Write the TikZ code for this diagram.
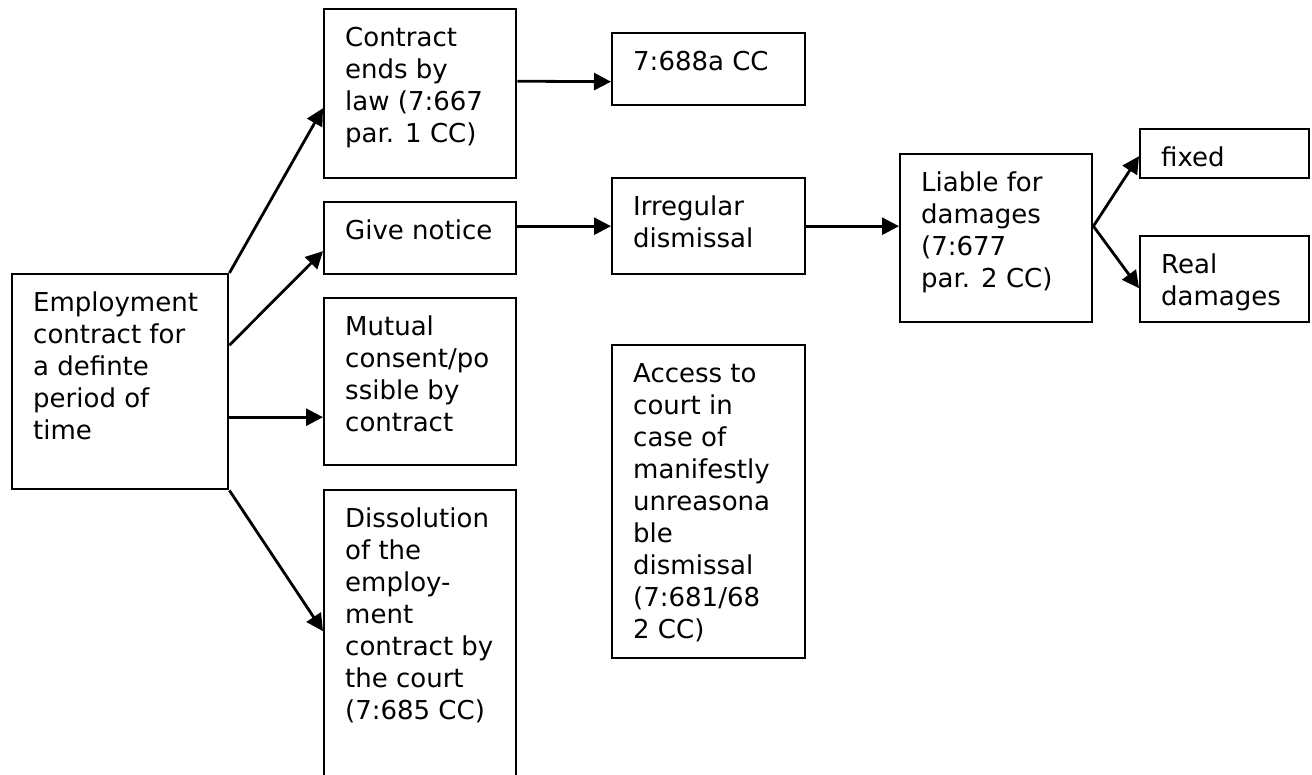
\documentclass[tikz,border=0pt]{standalone}
\usepackage{fontspec}
\setmainfont{DejaVu Sans}
\usepackage{tikz}
\usetikzlibrary{arrows.meta}

% text block inside a box: width, height, lines
\newcommand{\cellText}[3]{\parbox[c][#2][t]{#1}{\leftskip=21pt\parindent=0pt\rule{0pt}{37pt}#3}}

\begin{document}
\begin{tikzpicture}[
    x=1pt, y=-1pt,
    cellBox/.style={draw, line width=2.4pt, inner sep=0pt, anchor=north west},
    arrowLine/.style={->, >={Triangle[length=17pt, width=17pt]}, line width=2.8pt},
    every node/.style={
        font=\fontsize{26pt}{32pt}\selectfont,
        }
        ]
    \clip (0, 0) rectangle (1312, 775);

    \node[cellBox] (employment) at (11, 273) {\cellText{216pt}{215pt}{Employment\\contract for\\a definte\\period of\\time}};

    \node[cellBox] (law) at (323, 8) {\cellText{192pt}{169pt}{Contract\\ends by\\law (7:667\\par. 1 CC)}};
    \node[cellBox] (notice) at (323, 201) {\cellText{192pt}{72pt}{Give notice}};
    \node[cellBox] (mutual) at (323, 297) {\cellText{192pt}{167pt}{Mutual\\consent/po\\ssible by\\contract}};
    \node[cellBox] (dissolution) at (323, 489) {\cellText{192pt}{300pt}{Dissolution\\of the\\employ-\\ment\\contract by\\the court\\(7:685 CC)}};

    \node[cellBox] (article) at (611, 32) {\cellText{193pt}{72pt}{7:688a CC}};
    \node[cellBox] (irregular) at (611, 177) {\cellText{193pt}{96pt}{Irregular\\dismissal}};
    \node[cellBox] (access) at (611, 344) {\cellText{193pt}{313pt}{Access to\\court in\\case of\\manifestly\\unreasona\\ble\\dismissal\\(7:681/68\\2 CC)}};

    \node[cellBox] (liable) at (899, 153) {\cellText{192pt}{168pt}{Liable for\\damages\\(7:677\\par. 2 CC)}};

    \node[cellBox] (fixed) at (1139, 128) {\cellText{169pt}{49pt}{fixed}};
    \node[cellBox] (real) at (1139, 235) {\cellText{169pt}{86pt}{Real\\damages}};

    \draw[arrowLine] (employment.north east) -- ([yshift=-14.5pt]law.west);
    \draw[arrowLine] ([yshift=36.5pt]employment.east) -- ([yshift=-13pt]notice.west);
    \draw[arrowLine] ([yshift=-35.5pt]employment.east) -- ([yshift=-35.5pt]mutual.west);
    \draw[arrowLine] (employment.south east) -- ([yshift=9pt]dissolution.west);

    \draw[arrowLine] ([yshift=12.5pt]law.east) -- ([yshift=-12.5pt]article.west);
    \draw[arrowLine] ([yshift=12pt]notice.east) -- (irregular.west);
    \draw[arrowLine] (irregular.east) -- ([yshift=12pt]liable.west);

    \draw[arrowLine] ([yshift=12pt]liable.east) -- ([yshift=-2.5pt]fixed.west);
    \draw[arrowLine] ([yshift=12pt]liable.east) -- ([yshift=-9pt]real.west);
\end{tikzpicture}
\end{document}
